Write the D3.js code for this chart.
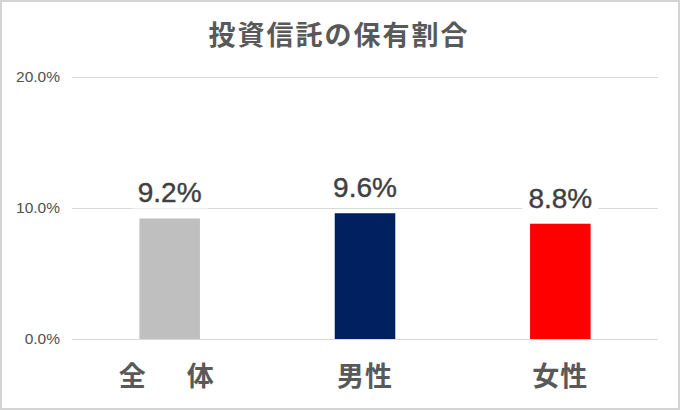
<!DOCTYPE html>
<html>
<head>
<meta charset="utf-8">
<script src="https://cdn.jsdelivr.net/npm/d3@7"></script>
<style>
  html, body { margin: 0; padding: 0; background: #fff; }
  #chart { width: 680px; height: 410px; }
</style>
</head>
<body>
<div id="chart"></div>
<script>
var categories = ["全　体", "男性", "女性"];
var values = [9.2, 9.6, 8.8];
var barColors = ["#bfbfbf", "#002060", "#ff0000"];
var yTicks = [0, 10, 20];
var title = "投資信託の保有割合";

var w = 680, h = 410;
var margin = { top: 77, right: 22, bottom: 71, left: 72 };

var svg = d3.select("#chart").append("svg")
    .attr("width", w)
    .attr("height", h);

// outer frame
svg.append("rect")
    .attr("x", 1).attr("y", 1)
    .attr("width", w - 2).attr("height", h - 2)
    .attr("fill", "#fff")
    .attr("stroke", "#d4d4d4")
    .attr("stroke-width", 2);

var xscale = d3.scaleBand()
    .domain(categories)
    .range([margin.left, w - margin.right])
    .paddingInner(0.69)
    .paddingOuter(0.345);

var yscale = d3.scaleLinear()
    .domain([0, 20])
    .range([h - margin.bottom, margin.top]);

// title
svg.append("text")
    .attr("x", 339)
    .attr("y", 45)
    .attr("text-anchor", "middle")
    .attr("font-family", "'Noto Sans CJK JP', sans-serif")
    .attr("font-weight", "bold")
    .attr("font-size", 27)
    .attr("letter-spacing", 2)
    .attr("fill", "#595959")
    .text(title);

// gridlines
var yaxis = d3.axisLeft(yscale)
    .tickValues(yTicks)
    .tickSize(-(w - margin.left - margin.right))
    .tickPadding(12)
    .tickFormat(function(d) { return d3.format(".1f")(d) + "%"; });

var gY = svg.append("g")
    .attr("transform", "translate(" + margin.left + ",0)")
    .call(yaxis);
gY.select(".domain").remove();
gY.selectAll(".tick line")
    .attr("stroke", "#d9d9d9")
    .attr("stroke-width", 1);
gY.selectAll(".tick text")
    .attr("font-family", "'Liberation Sans', Arial, sans-serif")
    .attr("font-size", 15.5)
    .attr("fill", "#505050");

// bars
svg.selectAll("rect.bar")
    .data(values)
    .enter().append("rect")
    .attr("class", "bar")
    .attr("x", function(d, i) { return xscale(categories[i]); })
    .attr("y", function(d) { return yscale(d); })
    .attr("width", xscale.bandwidth())
    .attr("height", function(d) { return yscale(0) - yscale(d); })
    .attr("fill", function(d, i) { return barColors[i]; });

// value labels with white backing
var lab = svg.selectAll("g.lab")
    .data(values)
    .enter().append("g")
    .attr("class", "lab")
    .attr("transform", function(d, i) {
        return "translate(" + (xscale(categories[i]) + xscale.bandwidth() / 2) + "," + (yscale(d) - 16) + ")";
    });
lab.append("rect")
    .attr("x", -38).attr("y", -26)
    .attr("width", 76).attr("height", 32)
    .attr("fill", "#fff");
lab.append("text")
    .attr("text-anchor", "middle")
    .attr("font-family", "'Liberation Sans', Arial, sans-serif")
    .attr("font-size", 28)
    .attr("fill", "#404040")
    .attr("stroke", "#404040")
    .attr("stroke-width", 0.4)
    .text(function(d) { return d.toFixed(1) + "%"; });

// category labels
var xaxis = d3.axisBottom(xscale).tickSize(0).tickPadding(28);
var gX = svg.append("g")
    .attr("transform", "translate(0," + (h - margin.bottom) + ")")
    .call(xaxis);
gX.select(".domain").remove();
gX.selectAll(".tick text")
    .attr("font-family", "'Noto Sans CJK JP', sans-serif")
    .attr("font-weight", "bold")
    .attr("font-size", 27)
    .attr("letter-spacing", function(d, i) { return i == 0 ? 7 : 1; })
    .attr("fill", "#595959");
</script>
</body>
</html>
